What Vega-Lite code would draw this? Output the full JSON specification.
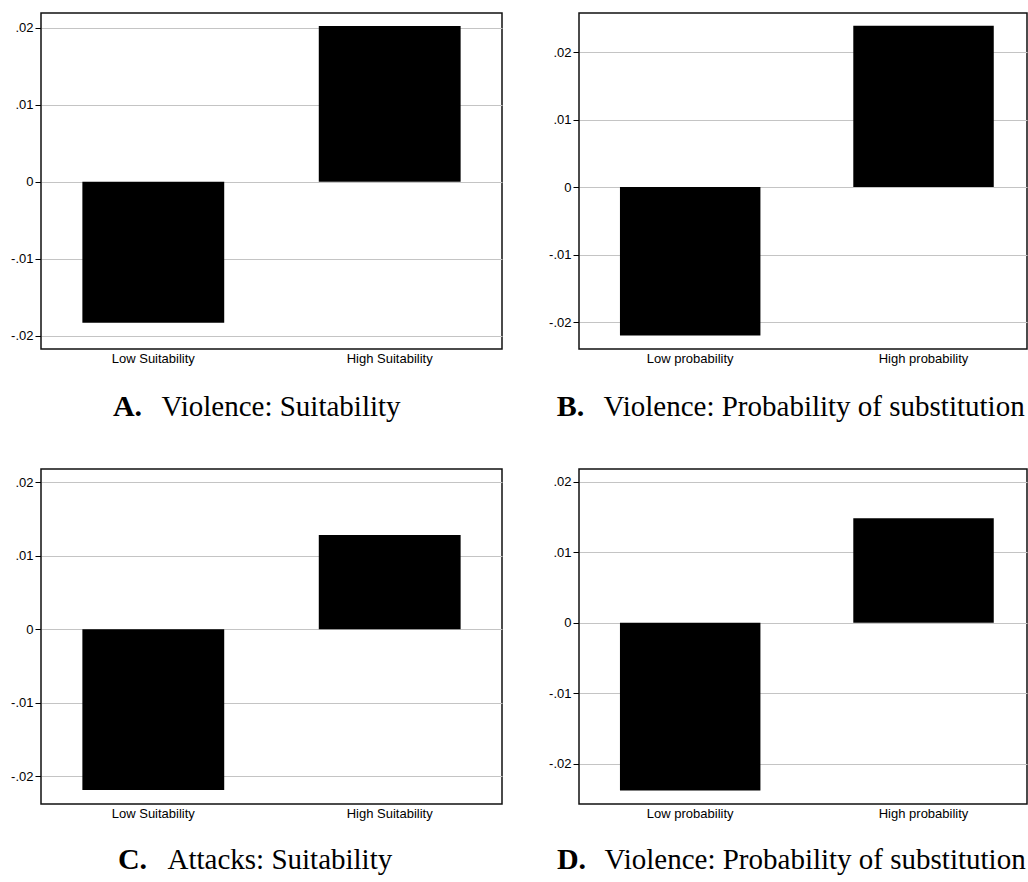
{
  "$schema": "https://vega.github.io/schema/vega-lite/v6.json",
  "padding": {"left": 9, "top": 12, "right": 0, "bottom": 0},
  "background": "white",
  "datasets": {
    "A": [{"group": "Low Suitability", "value": -0.0183}, {"group": "High Suitability", "value": 0.0202}],
    "B": [{"group": "Low probability", "value": -0.0220}, {"group": "High probability", "value": 0.0239}],
    "C": [{"group": "Low Suitability", "value": -0.0219}, {"group": "High Suitability", "value": 0.0128}],
    "D": [{"group": "Low probability", "value": -0.0238}, {"group": "High probability", "value": 0.0148}]
  },
  "columns": 2,
  "spacing": {"row": 120, "column": 77},
  "bounds": "flush",
  "concat": [
    {
      "width": 461, "height": 336,
      "data": {"name": "A"},
      "mark": {"type": "bar", "color": "black"},
      "encoding": {
        "x": {"field": "group", "type": "nominal", "sort": null,
              "scale": {"paddingInner": 0.4, "paddingOuter": 0.175},
              "axis": {"title": "Violence: Suitability", "titleX": 120, "titleY": 66}},
        "y": {"field": "value", "type": "quantitative",
              "scale": {"domain": [-0.0217, 0.0219], "nice": false, "zero": false},
              "axis": {"title": "A.", "titleX": 86, "titleY": 402, "values": [-0.02, -0.01, 0, 0.01, 0.02],
                       "labelExpr": "datum.value == 0 ? '0' : (datum.value < 0 ? '-' : '') + '.0' + round(abs(datum.value) * 100)"}},
        "y2": {"datum": 0}
      }
    },
    {
      "width": 448, "height": 336,
      "data": {"name": "B"},
      "mark": {"type": "bar", "color": "black"},
      "encoding": {
        "x": {"field": "group", "type": "nominal", "sort": null,
              "scale": {"paddingInner": 0.398, "paddingOuter": 0.159, "align": 0.552},
              "axis": {"title": "Violence: Probability of substitution", "titleX": 24, "titleY": 66}},
        "y": {"field": "value", "type": "quantitative",
              "scale": {"domain": [-0.0240, 0.0258], "nice": false, "zero": false},
              "axis": {"title": "B.", "titleX": -9, "titleY": 402, "values": [-0.02, -0.01, 0, 0.01, 0.02],
                       "labelExpr": "datum.value == 0 ? '0' : (datum.value < 0 ? '-' : '') + '.0' + round(abs(datum.value) * 100)"}},
        "y2": {"datum": 0}
      }
    },
    {
      "width": 461, "height": 335,
      "data": {"name": "C"},
      "mark": {"type": "bar", "color": "black"},
      "encoding": {
        "x": {"field": "group", "type": "nominal", "sort": null,
              "scale": {"paddingInner": 0.4, "paddingOuter": 0.175},
              "axis": {"title": "Attacks: Suitability", "titleX": 126, "titleY": 64}},
        "y": {"field": "value", "type": "quantitative",
              "scale": {"domain": [-0.0238, 0.0218], "nice": false, "zero": false},
              "axis": {"title": "C.", "titleX": 91, "titleY": 399, "values": [-0.02, -0.01, 0, 0.01, 0.02],
                       "labelExpr": "datum.value == 0 ? '0' : (datum.value < 0 ? '-' : '') + '.0' + round(abs(datum.value) * 100)"}},
        "y2": {"datum": 0}
      }
    },
    {
      "width": 448, "height": 335,
      "data": {"name": "D"},
      "mark": {"type": "bar", "color": "black"},
      "encoding": {
        "x": {"field": "group", "type": "nominal", "sort": null,
              "scale": {"paddingInner": 0.398, "paddingOuter": 0.159, "align": 0.552},
              "axis": {"title": "Violence: Probability of substitution", "titleX": 25, "titleY": 64}},
        "y": {"field": "value", "type": "quantitative",
              "scale": {"domain": [-0.0257, 0.0218], "nice": false, "zero": false},
              "axis": {"title": "D.", "titleX": -8, "titleY": 399, "values": [-0.02, -0.01, 0, 0.01, 0.02],
                       "labelExpr": "datum.value == 0 ? '0' : (datum.value < 0 ? '-' : '') + '.0' + round(abs(datum.value) * 100)"}},
        "y2": {"datum": 0}
      }
    }
  ],
  "config": {
    "view": {"stroke": "#111111", "strokeWidth": 1.5},
    "axis": {
      "labelFont": "Liberation Sans", "labelFontSize": 13, "labelColor": "black",
      "titleFont": "Liberation Serif", "titleFontSize": 29, "titleFontWeight": "normal", "titleColor": "black",
      "domain": false, "tickColor": "black"
    },
    "axisX": {"ticks": false, "grid": false, "labelAngle": 0, "labelPadding": 3,
              "titleAlign": "left", "titleBaseline": "alphabetic"},
    "axisY": {"grid": true, "gridColor": "#c4c4c4", "gridWidth": 1, "tickSize": 6, "labelPadding": 2,
              "titleAngle": 0, "titleAlign": "center", "titleBaseline": "alphabetic",
              "titleFontWeight": "bold", "titleFontSize": 30}
  }
}
